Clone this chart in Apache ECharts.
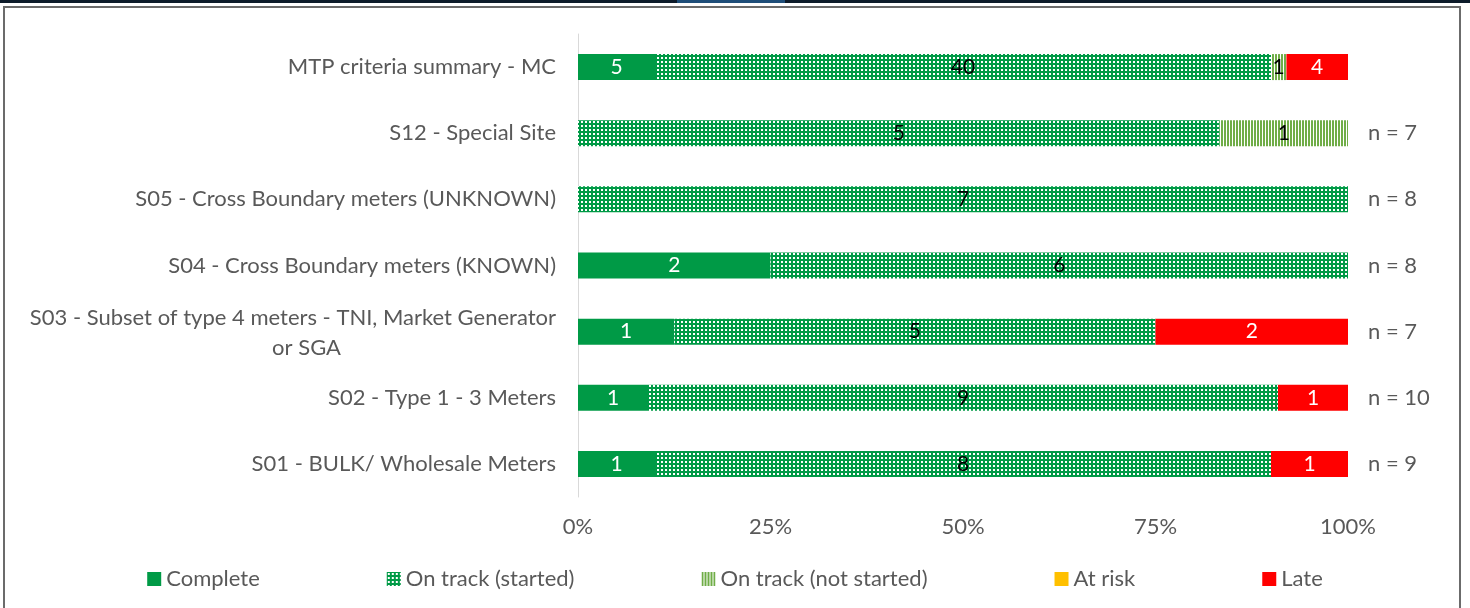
<!DOCTYPE html>
<html>
<head>
<meta charset="utf-8">
<script src="https://cdn.jsdelivr.net/npm/echarts@6/dist/echarts.min.js"></script>
<style>
  html, body { margin: 0; padding: 0; background: #fff; }
  #chart1 { width: 1470px; height: 608px; }
</style>
</head>
<body>
<div id="chart1"></div>
<script>
// data, bottom category first (category axis runs upward)
var categories = [
  'S01 - BULK/ Wholesale Meters',
  'S02 - Type 1 - 3 Meters',
  'S03 - Subset of type 4 meters - TNI, Market Generator\nor SGA',
  'S04 - Cross Boundary meters (KNOWN)',
  'S05 - Cross Boundary meters (UNKNOWN)',
  'S12 - Special Site',
  'MTP criteria summary - MC'
];
var complete          = [1, 1, 1, 2, 0, 0, 5];
var onTrackStarted    = [8, 9, 5, 6, 7, 5, 40];
var onTrackNotStarted = [0, 0, 0, 0, 0, 1, 1];
var atRisk            = [0, 0, 0, 0, 0, 0, 0];
var late              = [1, 1, 2, 0, 0, 0, 4];
var nLabels = ['n = 9', 'n = 10', 'n = 7', 'n = 8', 'n = 8', 'n = 7', ''];
var xTicks = ['0%', '25%', '50%', '75%', '100%'];

(function () {
  var myChart = echarts.init(document.getElementById('chart1'));
  var font = 'Lato, "Open Sans", sans-serif';
  var fs = 22;
  var grey = '#595959';
  var green = '#009A46';

  // fill patterns like the excel ones
  function dotPattern() {
    var c = document.createElement('canvas');
    c.width = 4; c.height = 4;
    var ctx = c.getContext('2d');
    ctx.fillStyle = green;
    ctx.fillRect(0, 0, 4, 4);
    ctx.fillStyle = '#ffffff';
    ctx.fillRect(1, 1, 2, 2);
    return { image: c, repeat: 'repeat' };
  }
  function stripePattern() {
    var c = document.createElement('canvas');
    c.width = 3; c.height = 3;
    var ctx = c.getContext('2d');
    ctx.fillStyle = '#ffffff';
    ctx.fillRect(0, 0, 3, 3);
    ctx.fillStyle = '#70AD47';
    ctx.fillRect(0, 0, 2, 3);
    return { image: c, repeat: 'repeat' };
  }

  // turn counts into shares of the row total (100% stacked)
  var totals = categories.map(function (c, i) {
    return complete[i] + onTrackStarted[i] + onTrackNotStarted[i] + atRisk[i] + late[i];
  });
  function pct(arr) {
    return arr.map(function (v, i) { return totals[i] ? v / totals[i] * 100 : 0; });
  }

  function makeSeries(name, counts, color, labelColor) {
    return {
      name: name,
      type: 'bar',
      stack: 'total',
      barWidth: 26,
      itemStyle: { color: color },
      label: {
        show: true,
        position: 'inside',
        color: labelColor,
        fontFamily: font,
        fontSize: 21,
        formatter: function (p) {
          var v = counts[p.dataIndex];
          return v ? String(v) : '';
        }
      },
      emphasis: { disabled: true },
      data: pct(counts)
    };
  }

  var option = {
    animation: false,
    textStyle: { fontFamily: font },
    graphic: [
      { type: 'rect', shape: { x: 0, y: 0, width: 1470, height: 3 }, style: { fill: '#0d1b2a' } },
      { type: 'rect', shape: { x: 677, y: 0, width: 108, height: 3 }, style: { fill: '#1f4e79' } },
      { type: 'rect', shape: { x: 4, y: 7, width: 1456, height: 620 },
        style: { fill: 'none', stroke: '#6b6b6b', lineWidth: 2 } }
    ],
    grid: { left: 578, right: 122, top: 34, bottom: 111 },
    legend: {
      left: 'center',
      top: 563,
      itemWidth: 14,
      itemHeight: 14,
      itemGap: 127,
      icon: 'rect',
      textStyle: { color: grey, fontSize: fs, fontFamily: font },
      data: ['Complete', 'On track (started)', 'On track (not started)', 'At risk', 'Late']
    },
    xAxis: {
      type: 'value',
      min: 0,
      max: 100,
      interval: 25,
      axisLine: { show: false },
      axisTick: { show: false },
      splitLine: { show: false },
      axisLabel: {
        color: grey,
        fontSize: fs,
        fontFamily: font,
        margin: 19,
        formatter: function (v) { return xTicks[Math.round(v / 25)]; }
      }
    },
    yAxis: [
      {
        type: 'category',
        data: categories,
        axisLine: { show: true, lineStyle: { color: '#d9d9d9', width: 1 } },
        axisTick: { show: false },
        axisLabel: {
          color: grey,
          fontSize: fs,
          fontFamily: font,
          margin: 22,
          formatter: function (v) {
            var parts = v.split('\n');
            if (parts.length < 2) return v;
            return '{a|' + parts[0] + '}\n{b|' + parts[1] + '}';
          },
          rich: {
            a: { color: grey, fontSize: fs, fontFamily: font, lineHeight: 33, padding: [6, 0, 0, 0] },
            b: { color: grey, fontSize: fs, fontFamily: font, lineHeight: 33, padding: [0, 215, 0, 0] }
          }
        }
      },
      {
        type: 'category',
        position: 'right',
        data: nLabels,
        axisLine: { show: false },
        axisTick: { show: false },
        axisLabel: { color: grey, fontSize: fs, fontFamily: font, margin: 20, align: 'left' }
      }
    ],
    series: [
      makeSeries('Complete', complete, green, '#ffffff'),
      makeSeries('On track (started)', onTrackStarted, dotPattern(), '#000000'),
      makeSeries('On track (not started)', onTrackNotStarted, stripePattern(), '#000000'),
      makeSeries('At risk', atRisk, '#FFC000', '#000000'),
      makeSeries('Late', late, '#FF0000', '#ffffff')
    ]
  };

  option && myChart.setOption(option);
})();
</script>
</body>
</html>
